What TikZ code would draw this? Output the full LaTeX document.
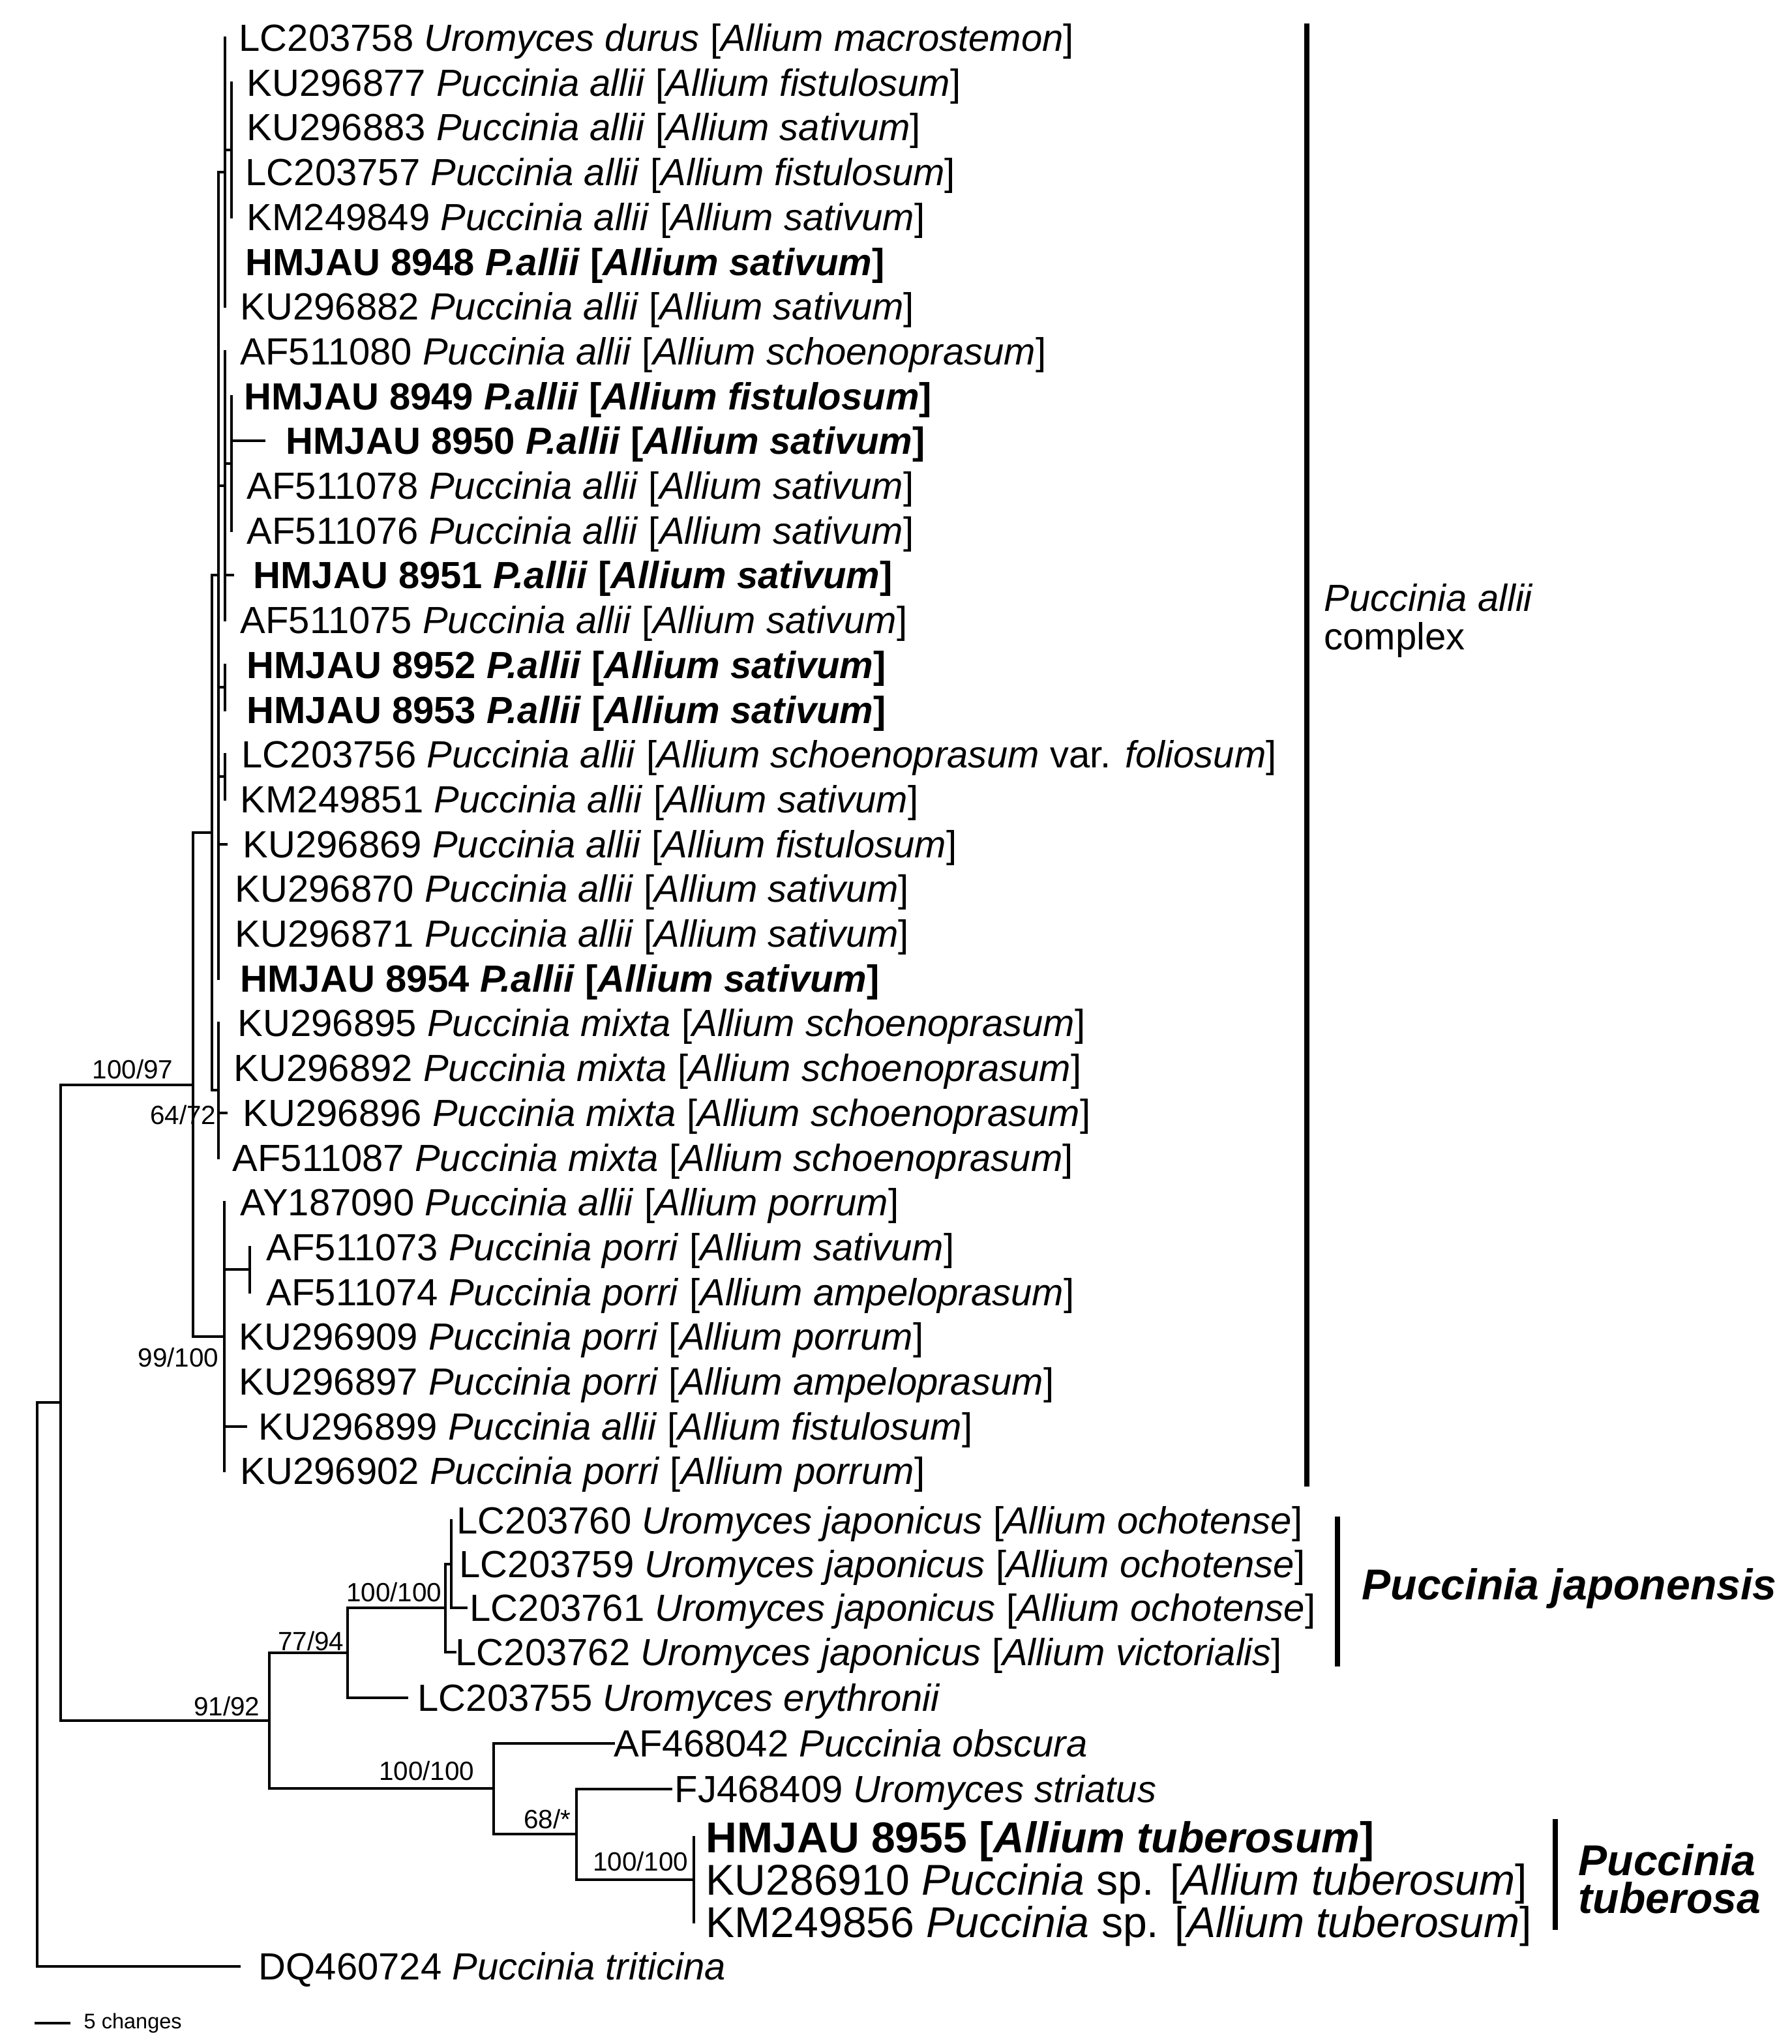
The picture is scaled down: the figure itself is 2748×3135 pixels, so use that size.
\documentclass[tikz,border=0pt]{standalone}
\usepackage{fontspec}
\setmainfont{Liberation Sans}
\tikzset{
    branch/.style={line width=1.15pt, line cap=rect},
    cladebar/.style={line width=2.5pt},
    taxon/.style={anchor=west, inner sep=0pt, text height=11.8pt, text depth=0pt, font=\fontsize{16.5}{18}\selectfont},
    hmjau/.style={taxon, font=\fontsize{16.5}{18}\selectfont\bfseries},
    bigtaxon/.style={anchor=west, inner sep=0pt, text height=13.4pt, text depth=0pt, font=\fontsize{18.8}{20}\selectfont},
    support/.style={anchor=east, inner sep=0pt, text height=8.2pt, text depth=0pt, font=\fontsize{11.5}{13}\selectfont},
    cladename/.style={anchor=west, inner sep=0pt, align=left}
}

\begin{document}
\begin{tikzpicture}[x=0.01cm, y=-0.01cm]
    \useasboundingbox (0,0) rectangle (2748,3135);

    % Puccinia allii complex
    \node[taxon] (LC203758) at (366,58) {LC203758 \textit{Uromyces durus} [\textit{Allium macrostemon}]};
    \node[taxon] (KU296877) at (378,127) {KU296877 \textit{Puccinia allii} [\textit{Allium fistulosum}]};
    \node[taxon] (KU296883) at (378,195) {KU296883 \textit{Puccinia allii} [\textit{Allium sativum}]};
    \node[taxon] (LC203757) at (376,264) {LC203757 \textit{Puccinia allii} [\textit{Allium fistulosum}]};
    \node[taxon] (KM249849) at (378,333) {KM249849 \textit{Puccinia allii} [\textit{Allium sativum}]};
    \node[hmjau] (HMJAU8948) at (376,402) {HMJAU 8948 \textit{P.allii} [\textit{Allium sativum}]};
    \node[taxon] (KU296882) at (368,470) {KU296882 \textit{Puccinia allii} [\textit{Allium sativum}]};
    \node[taxon] (AF511080) at (368,539) {AF511080 \textit{Puccinia allii} [\textit{Allium schoenoprasum}]};
    \node[hmjau] (HMJAU8949) at (374,608) {HMJAU 8949 \textit{P.allii} [\textit{Allium fistulosum}]};
    \node[hmjau] (HMJAU8950) at (438,676) {HMJAU 8950 \textit{P.allii} [\textit{Allium sativum}]};
    \node[taxon] (AF511078) at (378,745) {AF511078 \textit{Puccinia allii} [\textit{Allium sativum}]};
    \node[taxon] (AF511076) at (378,814) {AF511076 \textit{Puccinia allii} [\textit{Allium sativum}]};
    \node[hmjau] (HMJAU8951) at (388,882) {HMJAU 8951 \textit{P.allii} [\textit{Allium sativum}]};
    \node[taxon] (AF511075) at (368,951) {AF511075 \textit{Puccinia allii} [\textit{Allium sativum}]};
    \node[hmjau] (HMJAU8952) at (378,1020) {HMJAU 8952 \textit{P.allii} [\textit{Allium sativum}]};
    \node[hmjau] (HMJAU8953) at (378,1089) {HMJAU 8953 \textit{P.allii} [\textit{Allium sativum}]};
    \node[taxon] (LC203756) at (370,1157) {LC203756 \textit{Puccinia allii} [\textit{Allium schoenoprasum} var. \textit{foliosum}]};
    \node[taxon] (KM249851) at (368,1226) {KM249851 \textit{Puccinia allii} [\textit{Allium sativum}]};
    \node[taxon] (KU296869) at (372,1295) {KU296869 \textit{Puccinia allii} [\textit{Allium fistulosum}]};
    \node[taxon] (KU296870) at (360,1363) {KU296870 \textit{Puccinia allii} [\textit{Allium sativum}]};
    \node[taxon] (KU296871) at (360,1432) {KU296871 \textit{Puccinia allii} [\textit{Allium sativum}]};
    \node[hmjau] (HMJAU8954) at (368,1501) {HMJAU 8954 \textit{P.allii} [\textit{Allium sativum}]};
    \node[taxon] (KU296895) at (364,1569) {KU296895 \textit{Puccinia mixta} [\textit{Allium schoenoprasum}]};
    \node[taxon] (KU296892) at (358,1638) {KU296892 \textit{Puccinia mixta} [\textit{Allium schoenoprasum}]};
    \node[taxon] (KU296896) at (372,1707) {KU296896 \textit{Puccinia mixta} [\textit{Allium schoenoprasum}]};
    \node[taxon] (AF511087) at (356,1776) {AF511087 \textit{Puccinia mixta} [\textit{Allium schoenoprasum}]};
    \node[taxon] (AY187090) at (368,1844) {AY187090 \textit{Puccinia allii} [\textit{Allium porrum}]};
    \node[taxon] (AF511073) at (408,1913) {AF511073 \textit{Puccinia porri} [\textit{Allium sativum}]};
    \node[taxon] (AF511074) at (408,1982) {AF511074 \textit{Puccinia porri} [\textit{Allium ampeloprasum}]};
    \node[taxon] (KU296909) at (366,2050) {KU296909 \textit{Puccinia porri} [\textit{Allium porrum}]};
    \node[taxon] (KU296897) at (366,2119) {KU296897 \textit{Puccinia porri} [\textit{Allium ampeloprasum}]};
    \node[taxon] (KU296899) at (396,2188) {KU296899 \textit{Puccinia allii} [\textit{Allium fistulosum}]};
    \node[taxon] (KU296902) at (368,2256) {KU296902 \textit{Puccinia porri} [\textit{Allium porrum}]};

    % remaining taxa
    \node[taxon] (LC203760) at (700,2332) {LC203760 \textit{Uromyces japonicus} [\textit{Allium ochotense}]};
    \node[taxon] (LC203759) at (704,2399) {LC203759 \textit{Uromyces japonicus} [\textit{Allium ochotense}]};
    \node[taxon] (LC203761) at (720,2466) {LC203761 \textit{Uromyces japonicus} [\textit{Allium ochotense}]};
    \node[taxon] (LC203762) at (698,2534) {LC203762 \textit{Uromyces japonicus} [\textit{Allium victorialis}]};
    \node[taxon] (LC203755) at (640,2604) {LC203755 \textit{Uromyces erythronii}};
    \node[taxon] (AF468042) at (941,2674) {AF468042 \textit{Puccinia obscura}};
    \node[taxon] (FJ468409) at (1034,2744) {FJ468409 \textit{Uromyces striatus}};
    \node[bigtaxon, font=\fontsize{18.8}{20}\selectfont\bfseries] (HMJAU8955) at (1082,2818) {HMJAU 8955 [\textit{Allium tuberosum}]};
    \node[bigtaxon] (KU286910) at (1082,2883) {KU286910 \textit{Puccinia} sp. [\textit{Allium tuberosum}]};
    \node[bigtaxon] (KM249856) at (1082,2948) {KM249856 \textit{Puccinia} sp. [\textit{Allium tuberosum}]};
    \node[taxon] (DQ460724) at (396,3016) {DQ460724 \textit{Puccinia triticina}};

    % internal nodes
    \coordinate (nA) at (345,264);
    \coordinate (nB) at (355,230);
    \coordinate (nC) at (355,711);
    \coordinate (nD) at (345,745);
    \coordinate (nK) at (345,1054);
    \coordinate (nL) at (345,1191);
    \coordinate (nE) at (335,882);
    \coordinate (nI) at (335,1672);
    \coordinate (nF) at (325,1277);
    \coordinate (nJ) at (383,1947);
    \coordinate (nH) at (344,2050);
    \coordinate (nG) at (296,1664);
    \coordinate (nX) at (692,2399);
    \coordinate (nW) at (683,2466);
    \coordinate (nU) at (533,2535);
    \coordinate (nZ) at (1064,2883);
    \coordinate (nY) at (884,2813);
    \coordinate (nV) at (757,2743);
    \coordinate (nT) at (413,2639);
    \coordinate (nS) at (93,2151);
    \coordinate (nR) at (57,2585);

    % branches
    \draw[branch] (nA |- LC203758) -- (nA |- KU296882);
    \draw[branch] (nB |- KU296877) -- (nB |- KM249849);
    \draw[branch] (nA |- nB) -- (nB);
    \draw[branch] (nD |- AF511080) -- (nD |- AF511075);
    \draw[branch] (nC |- HMJAU8949) -- (nC |- AF511076);
    \draw[branch] (nD |- nC) -- (nC);
    \draw[branch, shorten >=0.33cm] (nC |- HMJAU8950) -- (HMJAU8950.west);
    \draw[branch, shorten >=0.31cm] (nD |- HMJAU8951) -- (HMJAU8951.west);
    \draw[branch] (nK |- HMJAU8952) -- (nK |- HMJAU8953);
    \draw[branch] (nL |- LC203756) -- (nL |- KM249851);
    \draw[branch] (nE |- nA) -- (nE |- HMJAU8954);
    \draw[branch] (nE |- nA) -- (nA);
    \draw[branch] (nE |- nD) -- (nD);
    \draw[branch] (nE |- nK) -- (nK);
    \draw[branch] (nE |- nL) -- (nL);
    \draw[branch, shorten >=0.25cm] (nE |- KU296869) -- (KU296869.west);
    \draw[branch] (nI |- KU296895) -- (nI |- AF511087);
    \draw[branch, shorten >=0.25cm] (nI |- KU296896) -- (KU296896.west);
    \draw[branch] (nF |- nE) -- (nF |- nI);
    \draw[branch] (nF |- nE) -- (nE);
    \draw[branch] (nF |- nI) -- (nI);
    \draw[branch] (nH |- AY187090) -- (nH |- KU296902);
    \draw[branch] (nJ |- AF511073) -- (nJ |- AF511074);
    \draw[branch] (nH |- nJ) -- (nJ);
    \draw[branch, shorten >=0.19cm] (nH |- KU296899) -- (KU296899.west);
    \draw[branch] (nG |- nF) -- (nG |- nH);
    \draw[branch] (nG |- nF) -- (nF);
    \draw[branch] (nG |- nH) -- (nH);

    \draw[branch] (nX |- LC203760) -- (nX |- LC203761);
    \draw[branch, shorten >=0.05cm] (nX |- LC203761) -- (LC203761.west);
    \draw[branch] (nW |- nX) -- (nW |- LC203762);
    \draw[branch] (nW |- nX) -- (nX);
    \draw[branch] (nW |- LC203762) -- (LC203762.west);
    \draw[branch] (nU |- nW) -- (nU |- LC203755);
    \draw[branch] (nU |- nW) -- (nW);
    \draw[branch, shorten >=0.16cm] (nU |- LC203755) -- (LC203755.west);
    \draw[branch] (nZ |- HMJAU8955) -- (nZ |- KM249856);
    \draw[branch] (nY |- FJ468409) -- (nY |- nZ);
    \draw[branch, shorten >=0.05cm] (nY |- FJ468409) -- (FJ468409.west);
    \draw[branch] (nY |- nZ) -- (nZ);
    \draw[branch] (nV |- AF468042) -- (nV |- nY);
    \draw[branch] (nV |- AF468042) -- (AF468042.west);
    \draw[branch] (nV |- nY) -- (nY);
    \draw[branch] (nT |- nU) -- (nT |- nV);
    \draw[branch] (nT |- nU) -- (nU);
    \draw[branch] (nT |- nV) -- (nV);
    \draw[branch] (nS |- nG) -- (nS |- nT);
    \draw[branch] (nS |- nG) -- (nG);
    \draw[branch] (nS |- nT) -- (nT);
    \draw[branch] (nR |- nS) -- (nR |- DQ460724);
    \draw[branch] (nR |- nS) -- (nS);
    \draw[branch, shorten >=0.29cm] (nR |- DQ460724) -- (DQ460724.west);

    % support values
    \node[support] (bsG) at (266,1640) {100/97};
    \node[support] (bsI) at (332,1710) {64/72};
    \node[support] (bsH) at (336,2082) {99/100};
    \node[support] (bsT) at (399,2617) {91/92};
    \node[support] (bsU) at (528,2517) {77/94};
    \node[support] (bsW) at (678,2442) {100/100};
    \node[support] (bsV) at (728,2716) {100/100};
    \node[support] (bsY) at (876,2790) {68/*};
    \node[support] (bsZ) at (1056,2855) {100/100};

    % clade bars
    \coordinate (alliiTop) at (2004,36);
    \coordinate (alliiBot) at (2004,2280);
    \coordinate (japonTop) at (2051,2326);
    \coordinate (japonBot) at (2051,2556);
    \coordinate (tuberTop) at (2385,2790);
    \coordinate (tuberBot) at (2385,2960);
    \draw[cladebar] (alliiTop) -- (alliiBot);
    \draw[cladebar] (japonTop) -- (japonBot);
    \draw[cladebar] (tuberTop) -- (tuberBot);
    \node[cladename, font=\fontsize{16.5}{17}\selectfont] (alliiName) at (2030,952) {\textit{Puccinia allii}\\complex};
    \node[cladename, font=\fontsize{18.8}{20}\selectfont\bfseries\itshape] (japonName) at (2088,2436) {Puccinia japonensis};
    \node[cladename, font=\fontsize{18.8}{16.5}\selectfont\bfseries\itshape] (tuberName) at (2420,2882) {Puccinia\\tuberosa};

    % scale bar
    \coordinate (scaleL) at (55,3103);
    \coordinate (scaleR) at (106,3103);
    \draw[branch] (scaleL) -- (scaleR);
    \node[anchor=west, inner sep=0pt, font=\fontsize{9.25}{11}\selectfont] (scaleTxt) at (128,3103) {5 changes};
\end{tikzpicture}
\end{document}
